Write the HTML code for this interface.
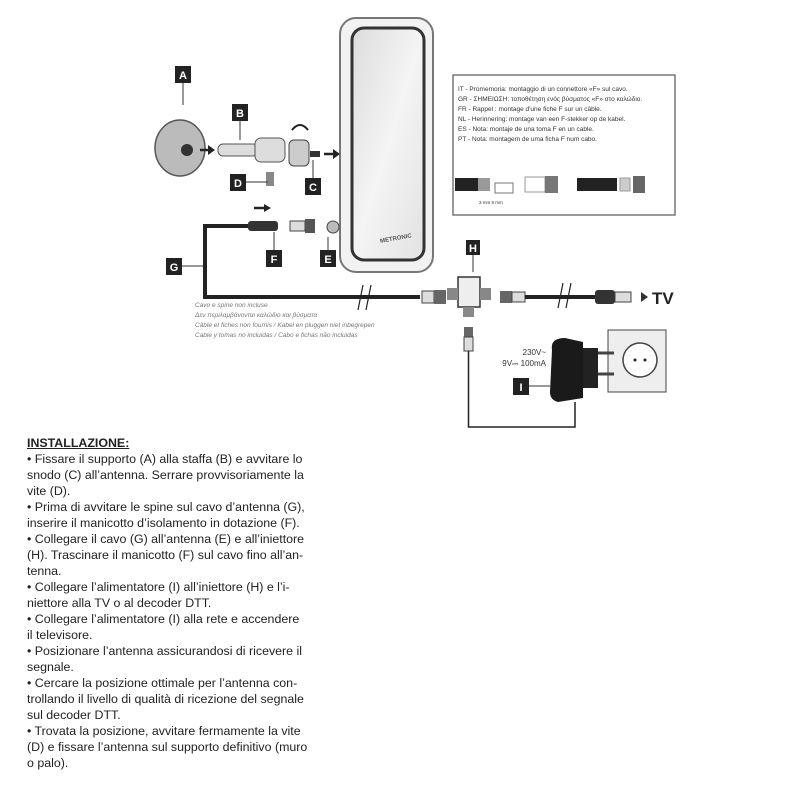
<!DOCTYPE html>
<html><head><meta charset="utf-8"><style>
body{margin:0;background:#fff;width:800px;height:800px;overflow:hidden;position:relative;font-family:"Liberation Sans","DejaVu Sans",sans-serif}
.t{position:absolute;left:27px;font-size:12.4px;color:#222;white-space:nowrap;line-height:16px}
</style></head><body>
<svg width="800" height="800" style="position:absolute;left:0;top:0">
<defs><linearGradient id="g" x1="0" y1="0" x2="1" y2="1"><stop offset="0" stop-color="#dcdcdc"/><stop offset="0.5" stop-color="#f4f4f4"/><stop offset="1" stop-color="#e2e2e2"/></linearGradient></defs>
<!-- antenna -->
<rect x="340" y="18" width="93" height="254" rx="16" fill="#f2f2f2" stroke="#777" stroke-width="2"/>
<rect x="352" y="28" width="72" height="232" rx="12" fill="url(#g)" stroke="#333" stroke-width="3"/>
<text x="380" y="242" font-size="6" font-weight="bold" fill="#555" transform="rotate(-10 385 240)">METRONIC</text>
<!-- info box -->
<rect x="453" y="75" width="222" height="140" fill="#fff" stroke="#555" stroke-width="1.2"/>
<g font-size="6.5" fill="#333">
<text x="458" y="91">IT - Promemoria: montaggio di un connettore «F» sul cavo.</text>
<text x="458" y="101">GR - ΣΗΜΕΙΩΣΗ: τοποθέτηση ενός βύσματος «F» στο καλώδιο.</text>
<text x="458" y="111">FR - Rappel : montage d'une fiche F sur un câble.</text>
<text x="458" y="121">NL - Herinnering: montage van een F-stekker op de kabel.</text>
<text x="458" y="131">ES - Nota: montaje de una toma F en un cable.</text>
<text x="458" y="141">PT - Nota: montagem de uma ficha F num cabo.</text>
<text x="479" y="204" font-size="4.5">3 mm  8 mm</text>
</g>
<rect x="455" y="178" width="28" height="13" fill="#222"/><rect x="478" y="178" width="12" height="13" fill="#999"/>
<rect x="495" y="183" width="18" height="10" fill="none" stroke="#777"/>
<rect x="525" y="177" width="20" height="15" fill="none" stroke="#999"/><rect x="545" y="176" width="13" height="17" fill="#777"/>
<rect x="577" y="178" width="40" height="13" fill="#222"/><rect x="620" y="178" width="10" height="13" fill="#ccc" stroke="#999"/><rect x="633" y="176" width="12" height="17" fill="#666"/>
<!-- bracket A -->
<ellipse cx="180" cy="148" rx="25" ry="28" fill="#bbb" stroke="#555" stroke-width="1.5"/>
<circle cx="187" cy="150" r="6" fill="#333"/>
<path d="M200 150 L210 150" stroke="#222" stroke-width="2.5"/><path d="M208 145 L215 150 L208 155Z" fill="#222"/>
<rect x="218" y="144" width="40" height="12" rx="5" fill="#ddd" stroke="#555"/>
<rect x="255" y="138" width="30" height="24" rx="6" fill="#ddd" stroke="#555"/>
<rect x="289" y="140" width="20" height="26" rx="5" fill="#ccc" stroke="#444"/>
<rect x="310" y="151" width="10" height="6" fill="#333"/>
<path d="M324 154 L336 154" stroke="#222" stroke-width="2.5"/><path d="M333 149 L340 154 L333 159Z" fill="#222"/>
<path d="M292 130 q8 -10 16 0" stroke="#222" stroke-width="2" fill="none"/>
<rect x="266" y="172" width="8" height="14" fill="#888"/>
<!-- labels -->
<g fill="#222">
<rect x="175" y="66" width="16" height="17"/><rect x="232" y="104" width="16" height="17"/><rect x="305" y="178" width="16" height="17"/><rect x="230" y="174" width="16" height="17"/><rect x="320" y="250" width="16" height="17"/><rect x="266" y="250" width="16" height="17"/><rect x="166" y="258" width="16" height="17"/><rect x="466" y="240" width="14" height="15"/><rect x="513" y="378" width="16" height="17"/>
</g>
<g fill="#fff" font-size="11" font-weight="bold" text-anchor="middle">
<text x="183" y="79">A</text><text x="240" y="117">B</text><text x="313" y="191">C</text><text x="238" y="187">D</text><text x="328" y="263">E</text><text x="274" y="263">F</text><text x="174" y="271">G</text><text x="473" y="252">H</text><text x="521" y="391">I</text>
</g>
<g stroke="#333" stroke-width="1" fill="none">
<path d="M183 83 V105"/><path d="M240 121 V140"/><path d="M313 178 V160"/><path d="M246 182 H268"/><path d="M328 250 V237"/><path d="M274 250 V232"/><path d="M182 266 H204"/><path d="M473 255 V272"/><path d="M529 386 H550"/>
</g>
<!-- cable G -->
<path d="M248 226 H205 V297 H420" stroke="#222" stroke-width="4" fill="none"/>
<path d="M254 208 H266" stroke="#222" stroke-width="2.5"/><path d="M264 204 L271 208 L264 212Z" fill="#222"/>
<rect x="248" y="221" width="30" height="10" rx="3" fill="#333"/>
<rect x="290" y="221" width="15" height="10" fill="#ddd" stroke="#444"/><rect x="305" y="219" width="10" height="14" fill="#555"/>
<circle cx="333" cy="227" r="6" fill="#bbb" stroke="#444"/>
<path d="M363 285 L358 310 M371 285 L366 310 M563 283 L558 308 M571 283 L566 308" stroke="#222" stroke-width="1.2"/>
<rect x="422" y="291" width="12" height="12" fill="#ddd" stroke="#444"/><rect x="434" y="290" width="12" height="14" fill="#666"/>
<!-- injector -->
<rect x="458" y="277" width="22" height="30" fill="#eee" stroke="#333" stroke-width="1.5"/>
<rect x="447" y="288" width="11" height="12" fill="#888"/><rect x="480" y="288" width="11" height="12" fill="#888"/><rect x="463" y="307" width="11" height="10" fill="#888"/>
<rect x="500" y="291" width="12" height="12" fill="#666"/><rect x="512" y="292" width="13" height="10" fill="#ddd" stroke="#444"/>
<path d="M525 297 H595" stroke="#222" stroke-width="4"/>
<rect x="595" y="290" width="20" height="14" rx="3" fill="#333"/><rect x="615" y="292" width="16" height="10" fill="#ddd" stroke="#444"/>
<path d="M641 292 L648 297 L641 302Z" fill="#333"/>
<text x="652" y="304" font-size="17" font-weight="bold" fill="#222">TV</text>
<rect x="464" y="327" width="9" height="10" fill="#666"/><rect x="464" y="337" width="9" height="14" fill="#ddd" stroke="#444"/>
<path d="M468.5 351 V427 H575 V402" stroke="#222" stroke-width="1.5" fill="none"/>
<!-- adapter -->
<rect x="608" y="330" width="58" height="62" fill="#eee" stroke="#444"/>
<circle cx="640" cy="360" r="17" fill="#fff" stroke="#444" stroke-width="1.5"/>
<circle cx="635" cy="360" r="1.5" fill="#222"/><circle cx="645" cy="360" r="1.5" fill="#222"/>
<path d="M552 350 Q550 338 565 338 L583 342 L583 398 L558 402 Q550 400 550 392Z" fill="#1a1a1a"/>
<rect x="583" y="348" width="15" height="40" fill="#222"/>
<path d="M598 353 H614 M598 374 H614" stroke="#444" stroke-width="3"/>
<text x="546" y="355" font-size="8" text-anchor="end" fill="#333">230V~</text>
<text x="546" y="366" font-size="8" text-anchor="end" fill="#333">9V⎓ 100mA</text>
<g font-size="6.5" font-style="italic" fill="#777">
<text x="195" y="307">Cavo e spine non incluse</text>
<text x="195" y="317">Δεν περιλαμβάνονται καλώδιο και βύσματα</text>
<text x="195" y="327">Câble et fiches non fournis / Kabel en pluggen niet inbegrepen</text>
<text x="195" y="337">Cable y tomas no incluidas / Cabo e fichas não incluidas</text>
</g>
</svg>
<div class="t" style="top:435px;font-weight:bold;text-decoration:underline">INSTALLAZIONE:</div>
<div class="t" style="top:451px">• Fissare il supporto (A) alla staffa (B) e avvitare lo</div>
<div class="t" style="top:467px">snodo (C) all’antenna. Serrare provvisoriamente la</div>
<div class="t" style="top:483px">vite (D).</div>
<div class="t" style="top:499px">• Prima di avvitare le spine sul cavo d’antenna (G),</div>
<div class="t" style="top:515px">inserire il manicotto d’isolamento in dotazione (F).</div>
<div class="t" style="top:531px">• Collegare il cavo (G) all’antenna (E) e all’iniettore</div>
<div class="t" style="top:547px">(H). Trascinare il manicotto (F) sul cavo fino all’an-</div>
<div class="t" style="top:563px">tenna.</div>
<div class="t" style="top:579px">• Collegare l’alimentatore (I) all’iniettore (H) e l’i-</div>
<div class="t" style="top:595px">niettore alla TV o al decoder DTT.</div>
<div class="t" style="top:611px">• Collegare l’alimentatore (I) alla rete e accendere</div>
<div class="t" style="top:627px">il televisore.</div>
<div class="t" style="top:643px">• Posizionare l’antenna assicurandosi di ricevere il</div>
<div class="t" style="top:659px">segnale.</div>
<div class="t" style="top:675px">• Cercare la posizione ottimale per l’antenna con-</div>
<div class="t" style="top:691px">trollando il livello di qualità di ricezione del segnale</div>
<div class="t" style="top:707px">sul decoder DTT.</div>
<div class="t" style="top:723px">• Trovata la posizione, avvitare fermamente la vite</div>
<div class="t" style="top:739px">(D) e fissare l’antenna sul supporto definitivo (muro</div>
<div class="t" style="top:755px">o palo).</div>
</body></html>
